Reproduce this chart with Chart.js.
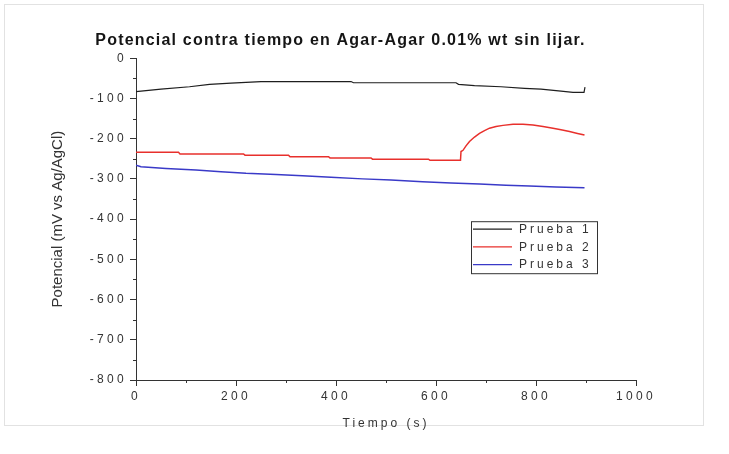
<!DOCTYPE html>
<html><head><meta charset="utf-8">
<script src="https://cdn.jsdelivr.net/npm/chart.js@4/dist/chart.umd.min.js"></script>
<style>html,body{margin:0;padding:0;background:#fff}#wrap{position:relative;width:729px;height:454px}</style>
</head><body><div id="wrap"><canvas id="c" width="729" height="454"></canvas></div>
<script>
const chartTitle = 'Potencial contra tiempo en Agar-Agar 0.01% wt sin lijar.';
const xTitle = 'Tiempo (s)';
const yTitle = 'Potencial (mV vs Ag/AgCl)';
const seriesLabels = ['Prueba 1', 'Prueba 2', 'Prueba 3'];
const seriesColors = ['#1e1e1e', '#e8302c', '#3a3ac8'];

const t1 = [0, 25, 50, 107, 147, 190, 250, 430, 435, 640, 645, 677, 730, 777, 810, 850, 874, 896, 898];
const v1 = [-83, -80, -77, -71, -65, -62, -58, -58, -61, -61, -65, -68, -71, -75, -77, -82, -85, -85, -72];

const t2 = [0, 85, 88, 215, 218, 305, 308, 385, 388, 470, 473, 585, 588, 649, 650, 654, 660, 667, 677, 687, 697, 707, 720, 734, 754, 774, 794, 814, 834, 850, 867, 883, 897];
const v2 = [-234, -234, -238, -238, -241, -241, -245, -245, -248, -248, -251, -251, -254, -254, -232, -229, -218, -207, -196, -187, -180, -174, -170, -167, -164, -164, -166, -170, -174, -178, -182, -187, -191];

const t3 = [0, 10, 60, 120, 170, 220, 280, 333, 390, 453, 510, 573, 630, 687, 740, 787, 840, 897];
const v3 = [-266, -270, -274, -278, -282, -286, -289, -292, -296, -300, -303, -307, -310, -313, -316, -318, -320, -322];

const xMin = 0, xMax = 1000, xStep = 200;
const yMin = -800, yMax = 0, yStep = 100;

const toXY = (t, v) => t.map((x, i) => ({x, y: v[i]}));
const seriesT = [t1, t2, t3], seriesV = [v1, v2, v3];

const FONT = "'Liberation Sans', Arial, Helvetica, sans-serif";

function withSpacing(obj, name, sp) {
  const orig = obj[name].bind(obj);
  obj[name] = function (...a) { const c = obj.ctx; c.save(); c.letterSpacing = sp; orig(...a); c.restore(); };
}

const helper = {
  id: 'helper',
  beforeDraw(chart) {
    const ctx = chart.ctx;
    ctx.save();
    ctx.fillStyle = '#fff';
    ctx.fillRect(0, 0, chart.width, chart.height);
    ctx.strokeStyle = '#e2e2e2';
    ctx.lineWidth = 1;
    ctx.strokeRect(4.5, 4.5, 699, 421);
    ctx.restore();
    Object.values(chart.scales).forEach(s => {
      if (s._spPatched) return;
      s._spPatched = true;
      withSpacing(s, 'drawLabels', '3.3px');
      if (s.isHorizontal()) withSpacing(s, 'drawTitle', '3px');
    });
    const tb = chart.titleBlock;
    if (tb && !tb._spPatched) { tb._spPatched = true; withSpacing(tb, 'draw', '1.2px'); }
  },
  afterDraw(chart) {
    const ctx = chart.ctx;
    const xs = chart.scales.x, ys = chart.scales.y;
    const area = chart.chartArea;
    ctx.save();
    ctx.strokeStyle = '#333';
    ctx.lineWidth = 1;
    ctx.beginPath();
    for (let v = xMin + xStep / 2; v < xMax; v += xStep) {
      const px = Math.round(xs.getPixelForValue(v)) + 0.5;
      ctx.moveTo(px, area.bottom); ctx.lineTo(px, area.bottom + 3);
    }
    for (let v = yMax - yStep / 2; v > yMin; v -= yStep) {
      const py = Math.round(ys.getPixelForValue(v)) + 0.5;
      ctx.moveTo(area.left - 3, py); ctx.lineTo(area.left, py);
    }
    ctx.stroke();

    // legend
    const bx = area.left + 335, by = area.top + 163, bw = 126, bh = 52;
    ctx.strokeStyle = '#333';
    ctx.strokeRect(bx + 0.5, by + 0.5, bw, bh);
    ctx.font = '12px ' + FONT;
    ctx.letterSpacing = '3px';
    ctx.textBaseline = 'middle';
    ctx.textAlign = 'left';
    chart.data.datasets.forEach((ds, i) => {
      const y = by + 8 + i * 17.7;
      ctx.strokeStyle = ds.borderColor;
      ctx.lineWidth = 1.3;
      ctx.beginPath();
      ctx.moveTo(bx + 2, y); ctx.lineTo(bx + 41, y);
      ctx.stroke();
      ctx.fillStyle = '#333';
      ctx.fillText(ds.label, bx + 48, y + 0.5);
    });
    ctx.restore();
  }
};

new Chart(document.getElementById('c'), {
  type: 'line',
  data: {
    datasets: seriesLabels.map((lab, i) => ({
      label: lab,
      data: toXY(seriesT[i], seriesV[i]),
      borderColor: seriesColors[i],
      borderWidth: i === 0 ? 1.2 : 1.5,
      pointRadius: 0,
      tension: 0,
      fill: false
    }))
  },
  options: {
    responsive: false,
    animation: false,
    layout: {padding: {left: 45, top: 25, right: 93, bottom: 19}},
    plugins: {
      legend: {display: false},
      tooltip: {enabled: false},
      title: {
        display: true, text: chartTitle, color: '#151515',
        font: {family: FONT, size: 16, weight: 'bold'},
        padding: {top: 6, bottom: 8}
      }
    },
    scales: {
      x: {
        type: 'linear', min: xMin, max: xMax,
        afterFit(s) { s.height = 55; },
        ticks: {stepSize: xStep, color: '#333', font: {family: FONT, size: 12}, padding: 3, maxRotation: 0, callback: v => String(v)},
        grid: {display: true, drawOnChartArea: false, drawTicks: true, tickLength: 6, color: '#333'},
        border: {display: true, color: '#333', width: 1},
        title: {display: true, text: xTitle, color: '#333', font: {family: FONT, size: 12}, padding: {top: 4, bottom: 4}}
      },
      y: {
        type: 'linear', min: yMin, max: yMax,
        afterFit(s) { s.width = 91; },
        ticks: {stepSize: yStep, color: '#333', font: {family: FONT, size: 12}, padding: 3, callback: v => String(v)},
        grid: {display: true, drawOnChartArea: false, drawTicks: true, tickLength: 6, color: '#333'},
        border: {display: true, color: '#333', width: 1},
        title: {display: true, text: yTitle, color: '#333', font: {family: FONT, size: 15}, padding: {top: 4, bottom: 4}}
      }
    }
  },
  plugins: [helper]
});
</script>
</body></html>
